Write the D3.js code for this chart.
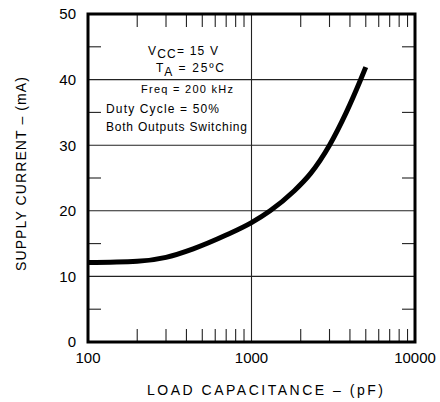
<!DOCTYPE html>
<html><head><meta charset="utf-8">
<script src="https://cdn.jsdelivr.net/npm/d3@7"></script>
<style>body{margin:0;background:#fff}svg{display:block}</style>
</head><body><svg id="c" width="440" height="402"></svg>
<script>
const capacitance = [100,200,300,440,700,1000,1300,1800,2300,3000,3800,4600,5000];
const supplyCurrent = [12.1,12.3,12.9,14.2,16.3,18.2,20.0,22.9,25.7,30.0,35.0,39.7,41.9];
const xTicks = [100,1000,10000];
const xMinor = [200,300,400,500,600,700,800,900,2000,3000,4000,5000,6000,7000,8000,9000];
const yTicks = [0,10,20,30,40,50];
const yMinor = [5,15,25,35,45];
const xTitle = "LOAD CAPACITANCE  –  (pF)";
const yTitle = "SUPPLY CURRENT  –  (mA)";

const svg = d3.select("#c");
const L=88,R=415,T=14,B=342;
const x = d3.scaleLog().domain([100,10000]).range([L,R]);
const y = d3.scaleLinear().domain([0,50]).range([B,T]);
const font = "'Liberation Sans', Arial, sans-serif";

const g = svg.append("g");
g.selectAll(".hg").data(yTicks.filter(d=>d>0&&d<50)).join("line")
 .attr("x1",L).attr("x2",R).attr("y1",d=>y(d)).attr("y2",d=>y(d))
 .attr("stroke","#222").attr("stroke-width",1.1);
g.append("line").attr("x1",x(1000)).attr("x2",x(1000)).attr("y1",T).attr("y2",B)
 .attr("stroke","#222").attr("stroke-width",1.1);

const tl=13;
g.selectAll(".xb").data(xMinor).join("line")
 .attr("x1",d=>x(d)).attr("x2",d=>x(d)).attr("y1",B).attr("y2",B-tl).attr("stroke","#222").attr("stroke-width",1.1);
g.selectAll(".xt").data(xMinor).join("line")
 .attr("x1",d=>x(d)).attr("x2",d=>x(d)).attr("y1",T).attr("y2",T+tl).attr("stroke","#222").attr("stroke-width",1.1);
g.selectAll(".yl").data(yMinor).join("line")
 .attr("x1",L).attr("x2",L+tl).attr("y1",d=>y(d)).attr("y2",d=>y(d)).attr("stroke","#222").attr("stroke-width",1.1);
g.selectAll(".yr").data(yMinor).join("line")
 .attr("x1",R).attr("x2",R-tl).attr("y1",d=>y(d)).attr("y2",d=>y(d)).attr("stroke","#222").attr("stroke-width",1.1);

svg.append("rect").attr("x",L).attr("y",T).attr("width",R-L).attr("height",B-T)
 .attr("fill","none").attr("stroke","#000").attr("stroke-width",3);

const data = capacitance.map((c,i)=>[c,supplyCurrent[i]]);
svg.append("path").datum(data)
 .attr("d", d3.line().x(d=>x(d[0])).y(d=>y(d[1])).curve(d3.curveMonotoneX))
 .attr("fill","none").attr("stroke","#000").attr("stroke-width",5).attr("stroke-linecap","butt");

svg.selectAll(".yt").data(yTicks).join("text")
 .attr("x",76).attr("y",d=>y(d)).attr("dy","0.36em").attr("text-anchor","end")
 .attr("font-family",font).attr("font-size",15).text(d=>d);
svg.selectAll(".xtl").data(xTicks).join("text")
 .attr("x",d=>x(d)).attr("y",363).attr("text-anchor","middle")
 .attr("font-family",font).attr("font-size",15).text(d=>d);

svg.append("text").attr("x",265).attr("y",395).attr("text-anchor","middle")
 .attr("font-family",font).attr("font-size",14).attr("textLength",236).attr("lengthAdjust","spacing").text(xTitle);
svg.append("text").attr("transform","translate(26,174) rotate(-90)").attr("text-anchor","middle")
 .attr("font-family",font).attr("font-size",14).attr("textLength",194).attr("lengthAdjust","spacing").text(yTitle);

const fs=12;
const t1 = svg.append("text").attr("x",148).attr("y",55).attr("font-family",font).attr("font-size",fs)
 .attr("textLength",70).attr("lengthAdjust","spacing");
t1.append("tspan").text("V");
t1.append("tspan").attr("dy",2.5).text("CC");
t1.append("tspan").attr("dy",-2.5).text("=  15 V");
const t2 = svg.append("text").attr("x",156).attr("y",72).attr("font-family",font).attr("font-size",fs)
 .attr("textLength",68).attr("lengthAdjust","spacing");
t2.append("tspan").text("T");
t2.append("tspan").attr("dy",4).text("A");
t2.append("tspan").attr("dy",-4).text(" =  25ºC");
svg.append("text").attr("x",141).attr("y",92.5).attr("font-family",font).attr("font-size",11)
 .attr("textLength",92).attr("lengthAdjust","spacing").text("Freq  = 200 kHz");
svg.append("text").attr("x",106).attr("y",113).attr("font-family",font).attr("font-size",fs)
 .attr("textLength",113).attr("lengthAdjust","spacing").text("Duty Cycle  =  50%");
svg.append("text").attr("x",106).attr("y",131).attr("font-family",font).attr("font-size",fs)
 .attr("textLength",141).attr("lengthAdjust","spacing").text("Both  Outputs  Switching");
</script></body></html>
